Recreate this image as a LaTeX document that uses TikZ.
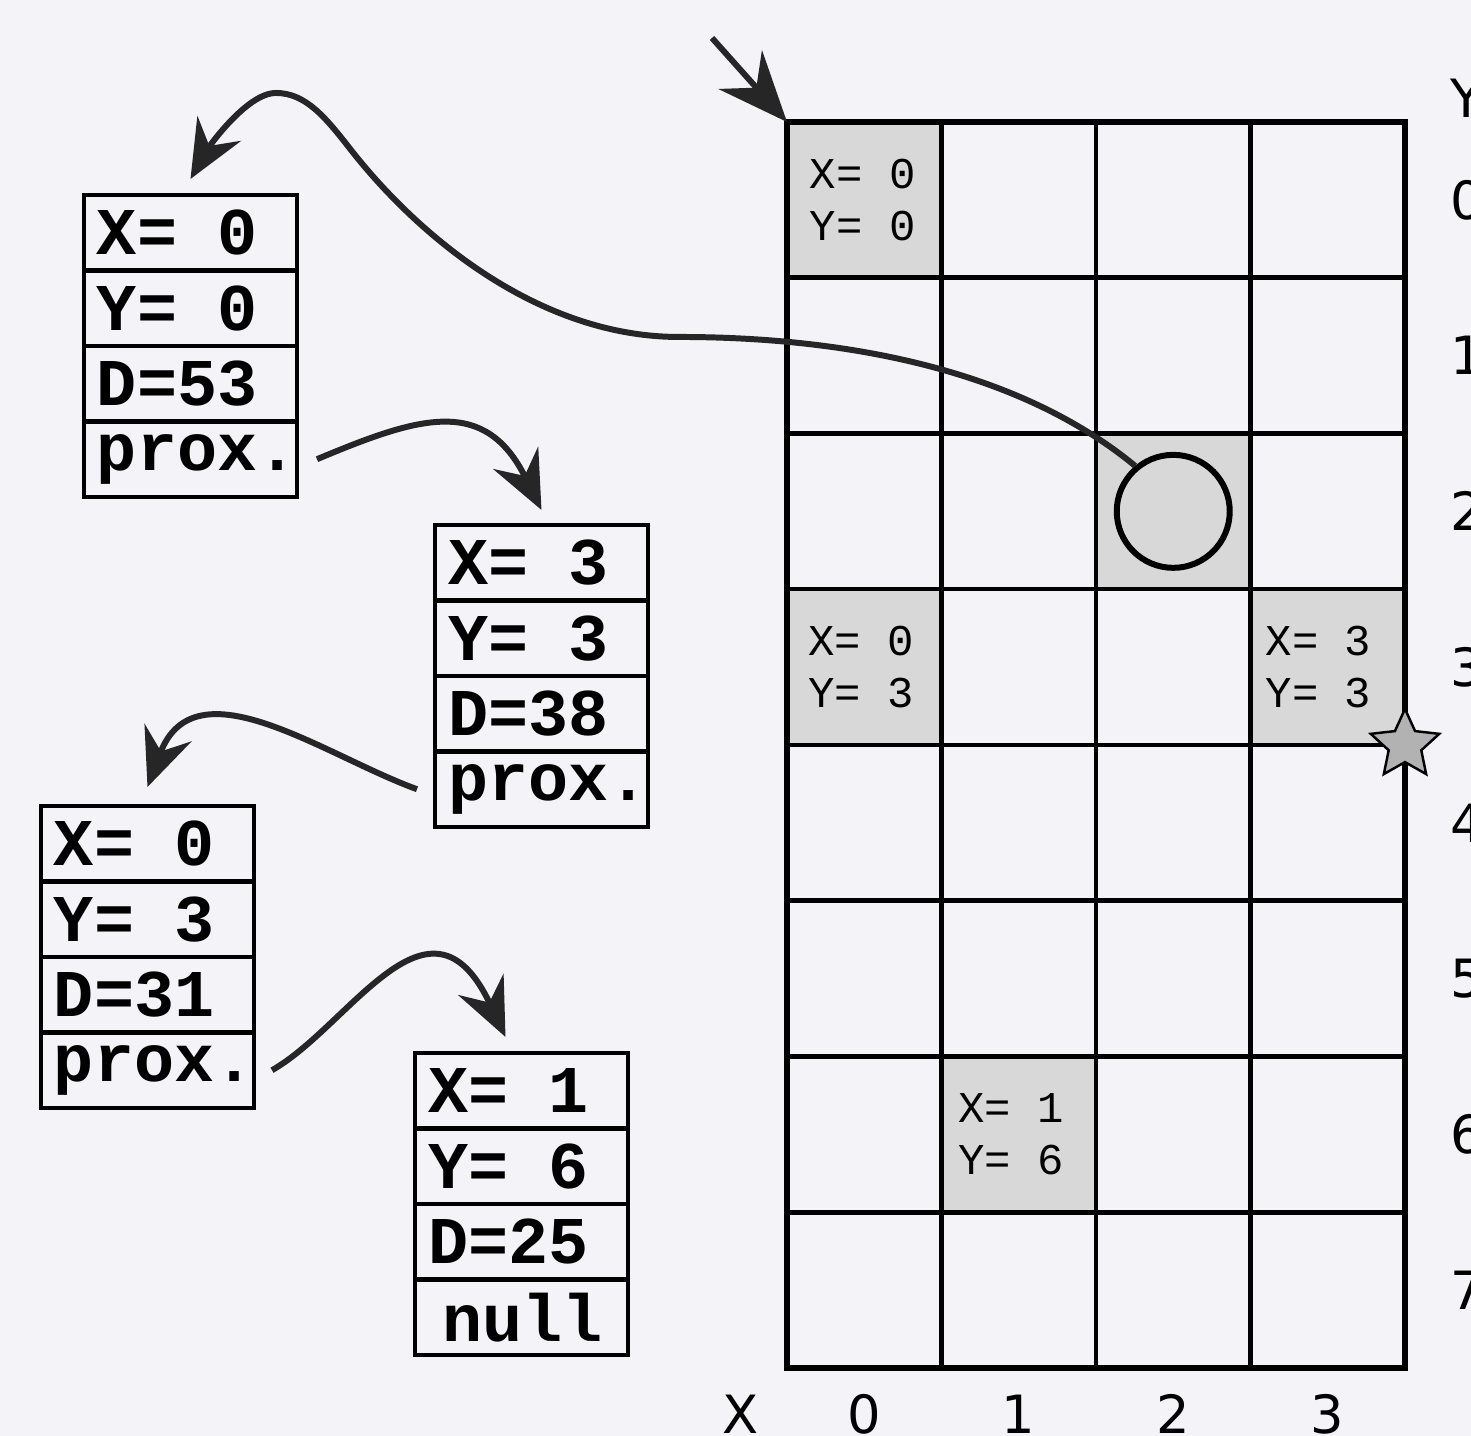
\documentclass[tikz,border=0pt]{standalone}
\usepackage{fontspec}
\newfontfamily\recfont{Liberation Mono}
\newfontfamily\axisfont{DejaVu Sans}
\usetikzlibrary{arrows.meta, shapes.geometric}
\definecolor{paper}{RGB}{243,243,248}
\definecolor{cellgray}{RGB}{216,216,216}
\definecolor{ink}{RGB}{38,38,38}

\begin{document}
\begin{tikzpicture}[
    field/.style={draw, line width=1.2pt, minimum width=2.13cm,
                  minimum height=0.755cm, text width=1.87cm, align=left,
                  inner sep=0pt, outer sep=0pt,
                  font=\recfont\bfseries\fontsize{19}{21}\selectfont},
    celltext/.style={align=left, inner sep=0pt,
                     font=\recfont\fontsize{12.5}{14.8}\selectfont},
    axislabel/.style={inner sep=0pt, font=\axisfont\fontsize{15}{18}\selectfont},
    gridline/.style={line width=1.3pt},
    link/.style={-{Stealth[length=5.8mm, width=5mm, inset=2mm]},
                 line width=1.7pt, draw=ink},
    >=Stealth
  ]
  \fill[paper] (0,0) rectangle (14.71,14.36);
  \useasboundingbox (0,0) rectangle (14.71,14.36);

  % the board, one unit per cell
  \begin{scope}[shift={(7.87,13.14)}, x=1.545cm, y=-1.5575cm]
    \foreach \c/\r in {0/0, 2/2, 0/3, 3/3, 1/6}
      \fill[cellgray] (\c,\r) rectangle ++(1,1);

    \foreach \i in {0,...,4}
      \draw[gridline] (\i,0) -- (\i,8);
    \foreach \j in {0,...,8}
      \draw[gridline] (0,\j) -- (4,\j);
    \draw[line width=1.6pt] (0,0) rectangle (4,8);
    \coordinate (orig) at (0,0);

    \node[celltext] (t00) at (0.49,0.5) {X= 0\\Y= 0};
    \node[celltext] (t03) at (0.48,3.5) {X= 0\\Y= 3};
    \node[celltext] (t33) at (3.44,3.5) {X= 3\\Y= 3};
    \node[celltext] (t16) at (1.45,6.5) {X= 1\\Y= 6};

    \node[circle, draw, line width=1.7pt, fill=cellgray, minimum size=1.13cm,
          inner sep=0pt] (cur) at (2.5,2.5) {};
    \node[star, star points=5, star point ratio=2.1, minimum size=0.72cm,
          inner sep=0pt, draw, line width=0.7pt, fill=gray!60] (goal) at (4,4) {};

    % axis labels
    \node[axislabel, anchor=west] (yhead) at (4.291,-0.15) {Y};
    \foreach \r in {0,...,7}
      \node[axislabel, anchor=west] (ylab\r) at (4.291,\r+0.5) {\r};
    \node[axislabel] (xhead) at (-0.3,8.295) {X};
    \foreach \c in {0,...,3}
      \node[axislabel] (xlab\c) at (\c+0.5,8.295) {\c};
  \end{scope}

  % the list records
  \foreach \rec/\cx/\cy/\xv/\yv/\dv/\nx in {
      a/1.905/12.0325/0/0/53/prox.,
      b/5.415/8.7325/3/3/38/prox.,
      c/1.475/5.9225/0/3/31/prox.,
      d/5.215/3.4525/1/6/25/{\hspace{.22em}null}} {
    \node[field] (\rec1) at (\cx,\cy) {X=\hphantom{0}\xv};
    \node[field] (\rec2) at (\cx,\cy-0.755) {Y=\hphantom{0}\yv};
    \node[field] (\rec3) at (\cx,\cy-1.51) {D=\dv};
    \node[field] (\rec4) at (\cx,\cy-2.265) {\nx};
  }

  % pointers
  \coordinate (ptr) at (7.12,13.98);
  \draw[link, -{Stealth[length=7mm, width=5.8mm, inset=2.4mm]}] (ptr) -- (orig);

  \draw[link] (cur.130) .. controls (10.2,10.65) and (8.5,10.99) .. (6.79,10.99)
    .. controls (5.4,10.99) and (4.2,11.98) .. (3.51,12.86)
    .. controls (3.26,13.18) and (3.06,13.43) .. (2.76,13.43)
    .. controls (2.46,13.43) and (2.07,12.86) .. ([yshift=1.6mm]a1.north);
  \draw[link] ([xshift=2mm]a4.east) .. controls (4.2,10.2) and (4.85,10.4)
    .. ([yshift=1.5mm]b1.north);
  \draw[link] ([xshift=-1.8mm]b4.west) .. controls (3.25,6.8) and (1.95,7.75)
    .. ([yshift=1.9mm]c1.north);
  \draw[link] ([xshift=1.8mm]c4.east) .. controls (3.5,4.1) and (4.3,5.6)
    .. ([xshift=-1.6mm,yshift=1.6mm]d1.north);
\end{tikzpicture}
\end{document}
